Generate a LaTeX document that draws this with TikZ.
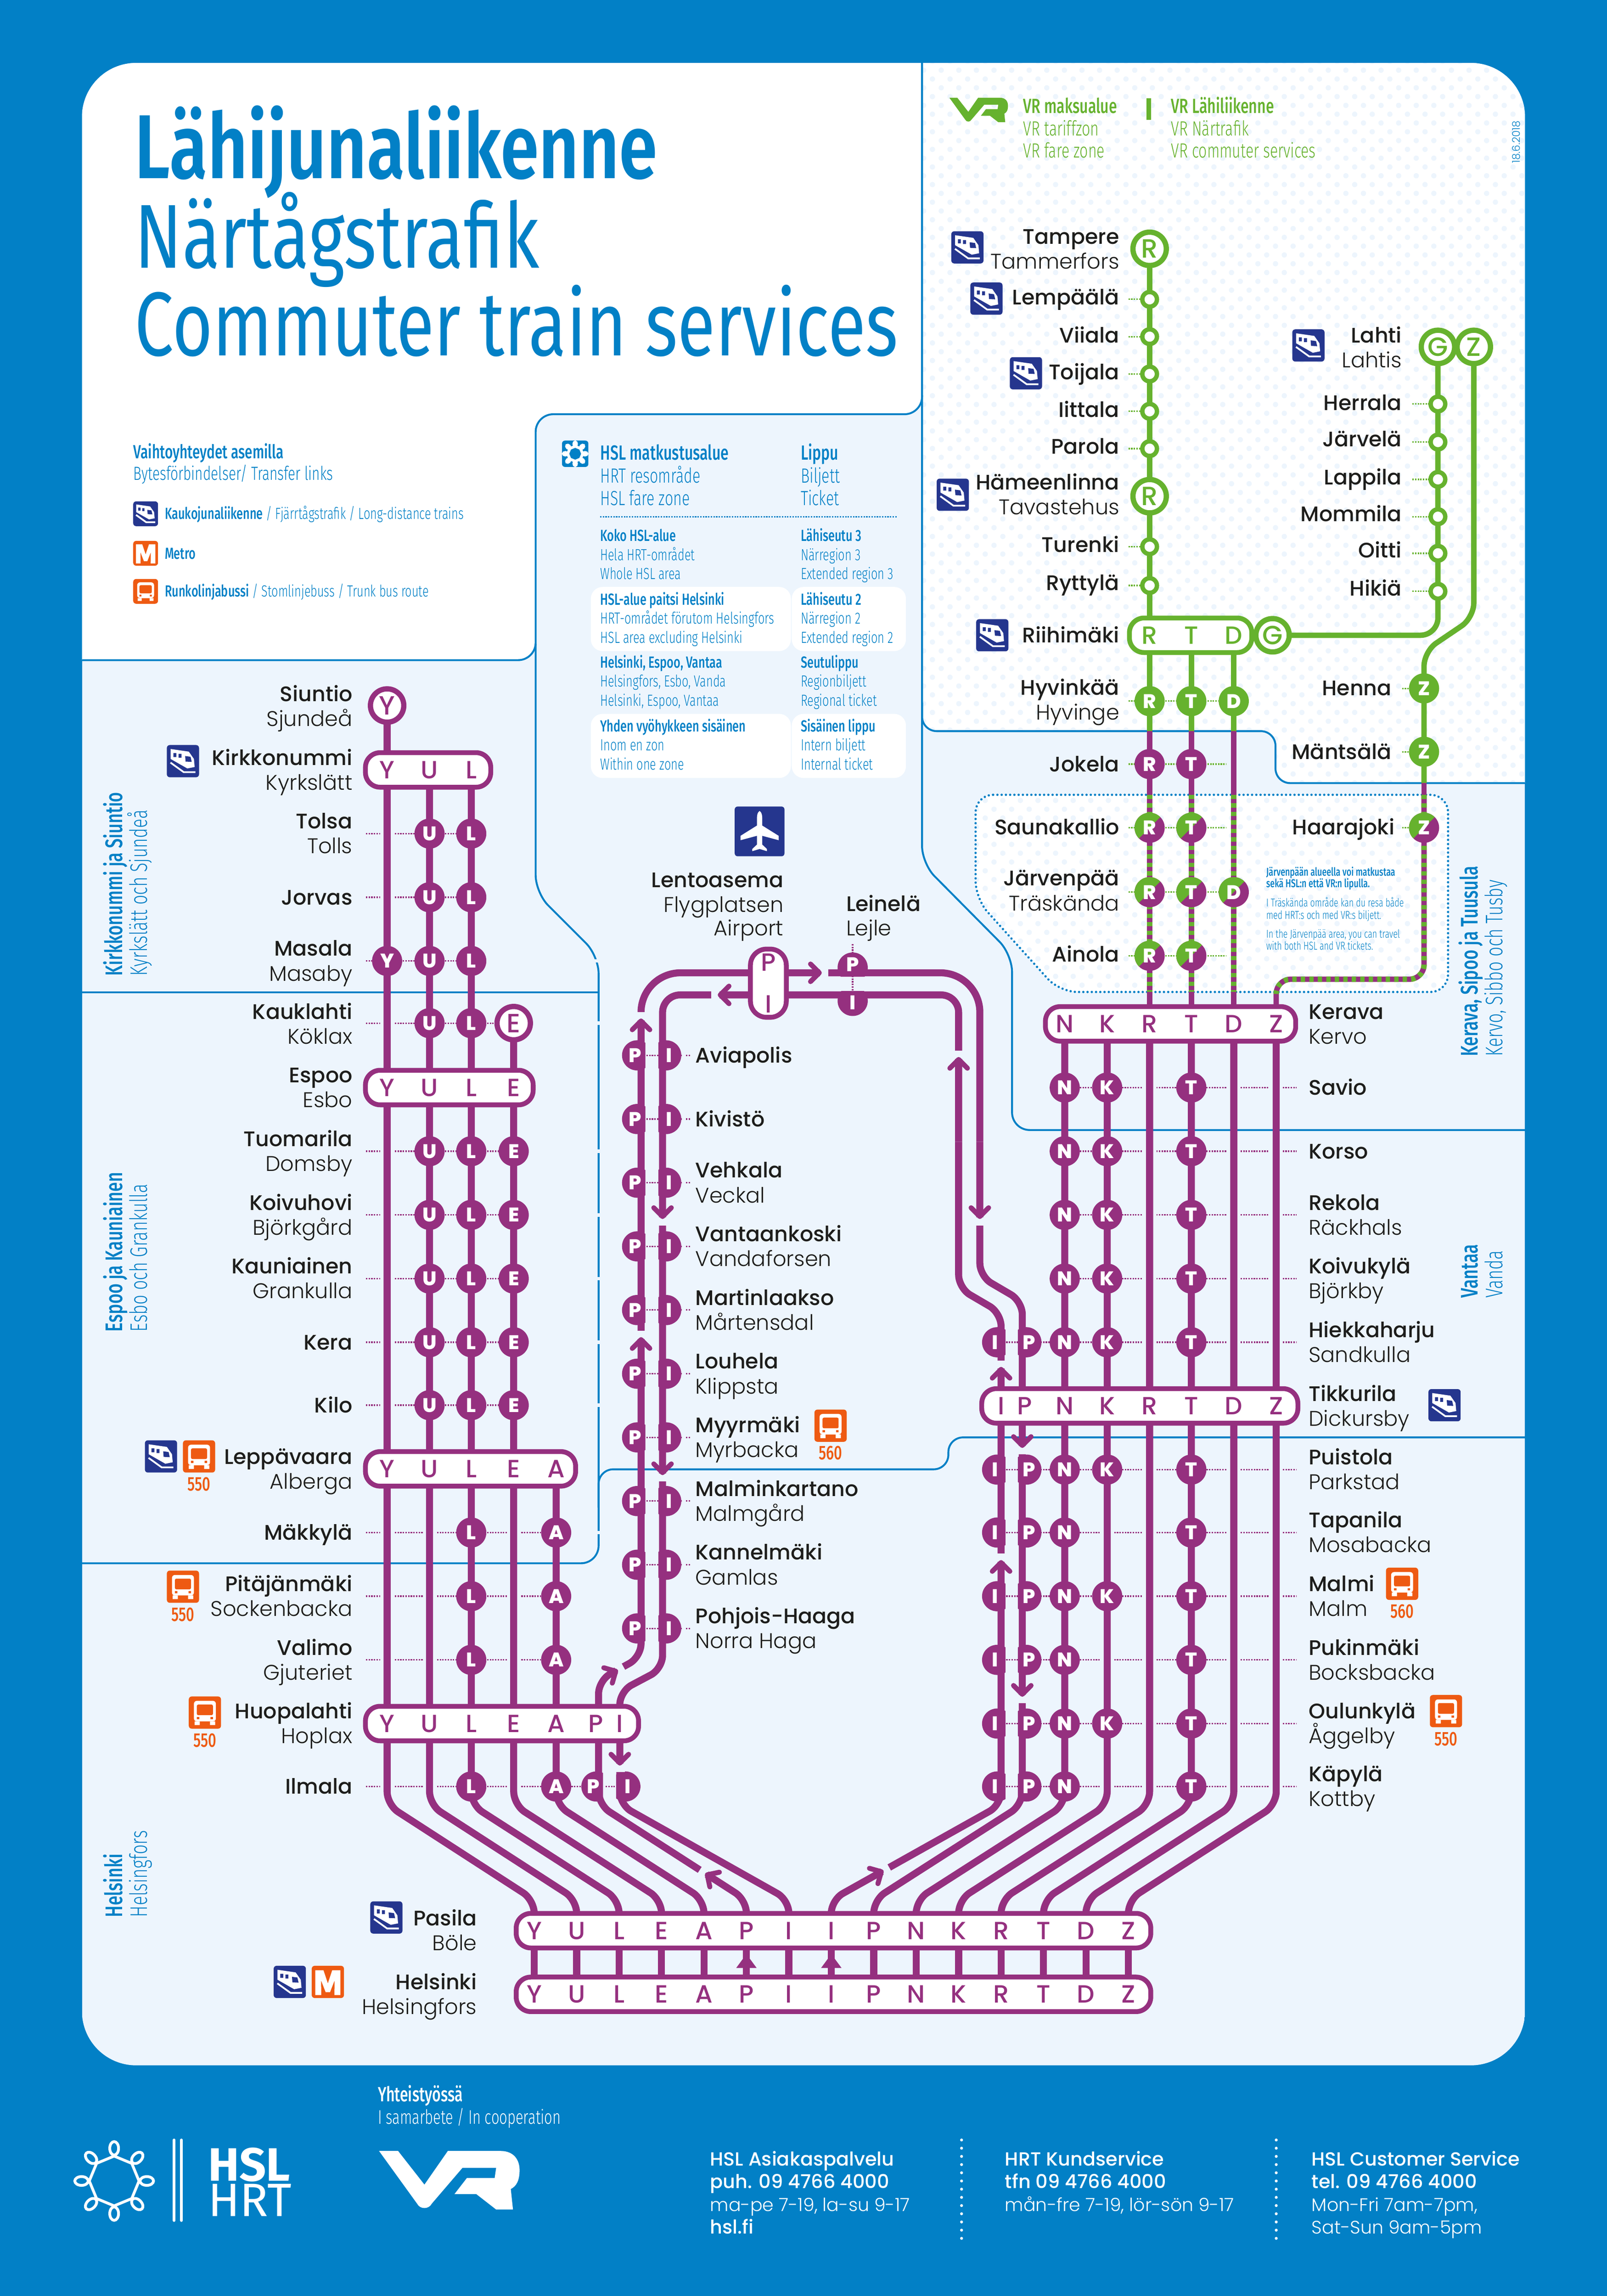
\documentclass[tikz,border=0pt]{standalone}
\usepackage{fontspec}
\usetikzlibrary{backgrounds,patterns.meta}
\newfontfamily\namefont{Poppins Medium}
\newfontfamily\bookfont{Poppins Light}
\newfontfamily\condfont[FakeStretch=0.72,BoldFont={Fira Sans Medium}]{Fira Sans Light}
\newfontfamily\titlefont[FakeStretch=0.765,BoldFont={Fira Sans SemiBold}]{Fira Sans}
\newfontfamily\logofont{Fira Sans}
\definecolor{hslblue}{HTML}{0280C6}
\definecolor{paleblue}{HTML}{EDF5FD}
\definecolor{trackpurple}{HTML}{95307F}
\definecolor{trackgreen}{HTML}{66B22E}
\definecolor{signnavy}{HTML}{25368E}
\definecolor{signorange}{HTML}{EE5A12}
\definecolor{inkblack}{HTML}{1D1D1B}
\tikzset{
	fiword/.style={font=\namefont\fontsize{14.4}{17}\selectfont,text=inkblack,inner sep=0pt,yshift=-3pt},
	svword/.style={font=\bookfont\fontsize{14.5}{17}\selectfont,text=inkblack,inner sep=0pt,yshift=-3pt},
	stopdot/.style={circle,fill=trackpurple,text=white,font=\namefont\bfseries\fontsize{13.5}{14}\selectfont,minimum size=20.6pt,inner sep=0pt,outer sep=0pt},
	greendot/.style={stopdot,fill=trackgreen},
	stopchar/.style={text=white,font=\namefont\bfseries\fontsize{13.5}{14}\selectfont,inner sep=0pt,outer sep=0pt},
	ringstop/.style={circle,draw=trackpurple,fill=white,line width=3.6pt,text=trackpurple,font=\namefont\fontsize{18}{18}\selectfont,minimum size=22.8pt,inner sep=0pt,outer sep=0pt},
	greenring/.style={ringstop,draw=trackgreen,text=trackgreen},
	smallstop/.style={circle,draw=trackgreen,fill=white,line width=3pt,minimum size=10pt,inner sep=0pt,outer sep=0pt},
	pillbox/.style={draw=trackpurple,fill=white,line width=3.3pt,rounded corners=10pt,minimum height=23.6pt,inner sep=0pt,outer sep=0pt},
	greenpill/.style={pillbox,draw=trackgreen},
	pillchar/.style={text=trackpurple,font=\namefont\fontsize{17}{17}\selectfont,inner sep=0pt,outer sep=0pt},
	greenchar/.style={pillchar,text=trackgreen},
	trackline/.style={draw=trackpurple,line width=4.8pt},
	thinline/.style={draw=trackpurple,line width=3.7pt},
	greenline/.style={draw=trackgreen,line width=3.7pt},
	sharedline/.style={draw=trackgreen,line width=3.7pt,dash pattern=on 2.9pt off 2.9pt},
	purpledots/.style={draw=trackpurple,line width=1pt,dash pattern=on 1pt off 0.8pt},
	greendots/.style={draw=trackgreen,line width=1pt,dash pattern=on 1pt off 0.8pt},
	borderline/.style={draw=hslblue,line width=1.3pt},
	dotfield/.style={preaction={fill=white},pattern={Dots[radius=1.8pt,distance=8.5pt,angle=45]},pattern color=paleblue},
	smalltext/.style={font=\condfont\fontsize{#1}{#1}\selectfont,text=hslblue,inner sep=0pt,anchor=mid west,yshift=-0.15*#1},
	smalltext/.default=10,
	boldtext/.style={font=\condfont\bfseries\fontsize{#1}{#1}\selectfont,text=hslblue,inner sep=0pt,anchor=mid west,yshift=-0.15*#1},
	boldtext/.default=10,
	sidebold/.style={font=\condfont\bfseries\fontsize{16.4}{16.4}\selectfont,text=hslblue,inner sep=0pt,anchor=mid west,rotate=90},
	sidelight/.style={font=\condfont\fontsize{16.4}{16.4}\selectfont,text=hslblue,inner sep=0pt,anchor=mid west,rotate=90},
	footword/.style={font=\bookfont\fontsize{12.4}{12.4}\selectfont,text=white,inner sep=0pt,anchor=mid west,yshift=-3pt},
	footbold/.style={font=\namefont\fontsize{13}{13}\selectfont,text=white,inner sep=0pt,anchor=mid west,yshift=-3pt},
	busno/.style={font=\condfont\bfseries\fontsize{13.5}{13.5}\selectfont,text=signorange,inner sep=0pt},
	trainsign/.pic={
		\fill[signnavy,rounded corners=2pt] (-11,-11) rectangle (11,11);
		\fill[white] (-8.4,-8.3) -- (4,-6.5) -- (7.5,-1.5) -- (8,4) -- (3,5) -- (-8.4,-1.5) -- cycle;
		\fill[signnavy] (1.5,-3.5) -- (5.2,-3) -- (6,0.5) -- (1.8,0.3) -- cycle;
		\fill[signnavy] (-6.5,-5.5) rectangle (-4.5,-2.8) (-3,-5) rectangle (-1,-2.3);
		\draw[white,line width=1.2pt] (-8.5,1) -- (0.5,7.5) -- (8.5,7.5);
	},
	busssign/.pic={
		\fill[signorange,rounded corners=2pt] (-11,-11) rectangle (11,11);
		\fill[white,rounded corners=2pt] (-7.5,-8) rectangle (7.5,6);
		\fill[signorange,rounded corners=1pt] (-5.5,-5.5) rectangle (5.5,1.8);
		\fill[white] (-7,6) rectangle (-3.5,8.5) (3.5,6) rectangle (7,8.5);
		\fill[signorange] (-5.5,3) rectangle (-3.8,4.5) (3.8,3) rectangle (5.5,4.5);
	},
	metrosign/.pic={
		\fill[signorange,rounded corners=2pt] (-11,-11) rectangle (11,11);
		\fill[white] (-8.6,9) -- (-8.6,-8) -- (-3,-8) -- (0,1) -- (3,-8) -- (8.6,-8) -- (8.6,9) -- (4.5,9) -- (4.6,-1) -- (1.5,7) -- (-1.5,7) -- (-4.6,-1) -- (-4.5,9) -- cycle;
	},
	planesign/.pic={
		\fill[signnavy,rounded corners=2pt] (-17,-17) rectangle (17,17);
		\fill[white] (0,-14) .. controls (1.5,-13) and (1.8,-11) .. (1.8,-9) -- (1.8,-4) -- (13,3) -- (13,6) -- (1.8,3) -- (1.8,9) -- (5,12) -- (5,13.5) -- (0,12) -- (-5,13.5) -- (-5,12) -- (-1.8,9) -- (-1.8,3) -- (-13,6) -- (-13,3) -- (-1.8,-4) -- (-1.8,-9) .. controls (-1.8,-11) and (-1.5,-13) .. (0,-14) -- cycle;
	},
	sunmark/.pic={
		\draw[white,line width=1.9pt,line join=round] (0:17pt) -- (45:17pt) -- (90:17pt) -- (135:17pt) -- (180:17pt) -- (225:17pt) -- (270:17pt) -- (315:17pt) -- cycle;
		\foreach \a in {0,45,...,315}{
			\draw[white,line width=1.9pt,rotate=\a] (22.3,0) ellipse[x radius=4.6,y radius=3];
		}
	},
	vrmark/.pic={
		\fill[pic actions] (0,0) -- (13,0) -- (31,23) -- (47,0) -- (83,0) .. controls (92,0) and (96,6) .. (96,13) .. controls (96,20) and (94,24) .. (90,26) -- (91.5,40) -- (80,40) -- (66.5,29.5) -- (51.5,29.5) -- (60,18.5) -- (79,18.5) -- (80,11.5) -- (57,11.5) -- (36,36) .. controls (34,40) and (28,40) .. (26,36) -- cycle;
	},
}
\newcommand{\stops}[3]{\foreach \lt in {#3}{\node[stopdot] (#1-\lt) at (\csname col\lt\endcsname,#2) {\lt};}}
\newcommand{\greenstops}[3]{\foreach \lt in {#3}{\node[greendot] (#1-\lt) at (\csname col\lt\endcsname,#2) {\lt};}}
\newcommand{\halfstop}[7]{
	\begin{scope}
		\clip #6 rectangle #7;
		\fill[trackpurple] (#5) circle[radius=10.3];
	\end{scope}
	\node[stopchar] (#1) at (#3,#4) {#2};}
\newcommand{\splitstop}[3]{
	\fill[trackpurple] (\csname col#2\endcsname,#3) circle[radius=10.3];
	\begin{scope}
		\clip (\csname col#2\endcsname,#3) circle[radius=10.3];
		\fill[trackgreen] ([shift={(-12,12)}]\csname col#2\endcsname,#3) -- ([shift={(-12,-12)}]\csname col#2\endcsname,#3) -- ([shift={(12,-12)}]\csname col#2\endcsname,#3) -- cycle;
	\end{scope}
	\node[stopchar] (#1-#2) at (\csname col#2\endcsname,#3) {#2};}
\newcommand{\pill}[5]{
	\node[pillbox,minimum width=#4] (#1) at (#3,#2) {};
	\foreach \lt in {#5}{\node[pillchar] (#1-\lt) at (\csname col\lt\endcsname,#2) {\lt};}}
\newcommand{\flowmark}[3]{
	\begin{scope}[shift={(#1,#2)},rotate=#3]
		\fill[paleblue] (-1,-3.6) rectangle (4.6,3.6);
		\draw[trackpurple,line width=3.4pt,line cap=round,line join=round] (-7.5,-6) -- (-1.5,0) -- (-7.5,6);
	\end{scope}}
\newcommand{\risemark}[2]{\fill[trackpurple] (#1,#2) -- (#1+7,#2+9.5) -- (#1-7,#2+9.5) -- cycle;}
\def\colY{264.5}\def\colU{293.5}\def\colL{322}\def\colE{351}\def\colA{380}
\def\colN{727.5}\def\colK{756.5}\def\colR{785.5}\def\colT{814}\def\colD{843}\def\colZ{872}
\begin{document}
\begin{tikzpicture}[x=1pt,y=-1pt]
	\useasboundingbox (0,0) rectangle (1098,1568.6);
	% panel and fare zones
	\begin{scope}[on background layer]
		\fill[hslblue] (0,0) rectangle (1098,1568.6);
		\begin{scope}
			\clip[rounded corners=37pt] (56,43) rectangle (1042,1411);
			\fill[paleblue] (56,43) rectangle (1042,1411);
			\fill[white,rounded corners=12pt] (20,0) -- (630,0) -- (630,283) -- (366,283) -- (366,451) -- (20,451) -- cycle;
			\path[dotfield,rounded corners=10pt] (630,0) -- (1100,0) -- (1100,535) -- (871.5,535) -- (871.5,499.5) -- (630,499.5) -- cycle;
			\draw[borderline,rounded corners=12pt] (20,451) -- (366,451) -- (366,283) -- (630,283) -- (630,0);
			\draw[borderline,rounded corners=12pt] (366,440) -- (366,610) -- (409,653) -- (409,1068) -- (20,1068);
			\draw[borderline] (20,678) -- (409,678);
			\draw[borderline,rounded corners=12pt] (630,270) -- (630,590) -- (691.5,652) -- (691.5,772) -- (1100,772);
			\draw[borderline,rounded corners=10pt] (630,480) -- (630,499.5) -- (871.5,499.5) -- (871.5,535) -- (1100,535);
			\draw[borderline,rounded corners=10pt] (409,1030) -- (409,1003.8) -- (648,1003.8) -- (648,982) -- (1100,982);
		\end{scope}
		\path[dotfield,rounded corners=12pt] (666.6,543) -- (989.4,543) -- (989.4,677.7) -- (724,677.7) -- (666.6,614) -- cycle;
		\draw[hslblue,line width=1.6pt,line cap=round,dash pattern=on 0pt off 2.9pt,rounded corners=12pt] (666.6,543) -- (989.4,543) -- (989.4,677.7) -- (724,677.7) -- (666.6,614) -- cycle;
	\end{scope}

	% pills
	\pill{kirkkonummi}{526}{292.5}{85.6}{Y,U,L}
	\pill{espoo}{743}{307}{114.6}{Y,U,L,E}
	\pill{leppavaara}{1003.5}{321.5}{143.6}{Y,U,L,E,A}
	\pill{huopalahti}{1177.5}{343}{186.6}{Y,U,L,E,A}
	\node[pillchar] (huopalahti-Pw) at (407,1177.5) {P};
	\node[pillchar] (huopalahti-Iw) at (423.5,1177.5) {I};
	\pill{kerava}{699.5}{799.8}{171}{N,K,R,T,D,Z}
	\pill{tikkurila}{960.5}{778.8}{216}{N,K,R,T,D,Z}
	\node[pillchar] (tikkurila-Ie) at (684,960.5) {I};
	\node[pillchar] (tikkurila-Pe) at (700,960.5) {P};
	\node[pillbox,minimum width=433.6] (pasila) at (569.5,1319) {};
	\node[pillbox,minimum width=433.6] (helsinki) at (569.5,1362.5) {};
	\foreach \nm/\lt/\cx in {Y/Y/365,U/U/394,L/L/423,E/E/452,A/A/481,Pw/P/510,Iw/I/539,Ie/I/568,Pe/P/597,N/N/626,K/K/655,R/R/684,T/T/713,D/D/742,Z/Z/771}{
		\node[pillchar] (pasila-\nm) at (\cx,1319) {\lt};
		\node[pillchar] (helsinki-\nm) at (\cx,1362.5) {\lt};
	}
	\node[greenpill,minimum width=83.6] (riihimaki) at (813.5,434) {};
	\foreach \lt in {R,T,D}{\node[greenchar] (riihimaki-\lt) at (\csname col\lt\endcsname,434) {\lt};}

	% terminal rings
	\node[ringstop] (siuntio-Y) at (\colY,482) {Y};
	\node[ringstop] (kauklahti-E) at (\colE,699) {E};
	\node[greenring] (tampere-R) at (\colR,170) {R};
	\node[greenring] (hameenlinna-R) at (\colR,339) {R};
	\node[greenring] (lahti-G) at (982.5,237) {G};
	\node[greenring] (lahti-Z) at (1007,237) {Z};
	\node[greenring] (riihimaki-G) at (869.5,434) {G};

	% stops, left branch
	\stops{tolsa}{569.5}{U,L}
	\stops{jorvas}{613}{U,L}
	\stops{masala}{656.5}{Y,U,L}
	\stops{kauklahti}{699}{U,L}
	\foreach \stn/\rowy in {tuomarila/786.5,koivuhovi/830,kauniainen/873.5,kera/917,kilo/960}{\stops{\stn}{\rowy}{U,L,E}}
	\foreach \stn/\rowy in {makkyla/1047,pitajanmaki/1090.5,valimo/1134,ilmala/1220.5}{\stops{\stn}{\rowy}{L,A}}
	% stops, right branch
	\foreach \stn/\rowy in {savio/743,korso/786.5,rekola/830,koivukyla/873.5,hiekkaharju/917,puistola/1004,malmi/1090.5,oulunkyla/1177.5}{\stops{\stn}{\rowy}{N,K,T}}
	\foreach \stn/\rowy in {tapanila/1047,pukinmaki/1134,kapyla/1220.5}{\stops{\stn}{\rowy}{N,T}}
	\foreach \stn/\rowy in {hiekkaharju/917,puistola/1004,tapanila/1047,malmi/1090.5,pukinmaki/1134,oulunkyla/1177.5,kapyla/1220.5}{
		\halfstop{\stn-Ie}{I}{680}{\rowy}{681.3,\rowy}{(670,\rowy-11)}{(687,\rowy+11)}
		\halfstop{\stn-Pe}{P}{703}{\rowy}{701.3,\rowy}{(695.5,\rowy-11)}{(712,\rowy+11)}
	}
	% stops, airport loop
	\foreach \stn/\rowy in {aviapolis/721,kivisto/764.5,vehkala/808,vantaankoski/851.5,martinlaakso/895,louhela/938.5,myyrmaki/982,malminkartano/1025.5,kannelmaki/1069,pohjoishaaga/1112.5}{
		\halfstop{\stn-Pw}{P}{433.8}{\rowy}{435.3,\rowy}{(424,\rowy-11)}{(441,\rowy+11)}
		\halfstop{\stn-Iw}{I}{457}{\rowy}{455.2,\rowy}{(449.8,\rowy-11)}{(466,\rowy+11)}
	}
	\halfstop{ilmala-Pw}{P}{405.5}{1220.5}{407.5,1220.5}{(396,1209)}{(412,1232)}
	\halfstop{ilmala-Iw}{I}{429}{1220.5}{427.3,1220.5}{(421,1209)}{(438,1232)}
	\halfstop{leinela-P}{P}{582.6}{659}{582.6,661}{(570,650)}{(595,667)}
	\halfstop{leinela-I}{I}{582.6}{685}{582.6,683.8}{(570,677.2)}{(595,695)}
	\node[draw=trackpurple,fill=white,line width=3.3pt,rounded corners=11pt,minimum width=24.5,minimum height=46.6,inner sep=0pt,outer sep=0pt] (lentoasema) at (525,671.7) {};
	\node[pillchar] (lentoasema-P) at (525,657.5) {P};
	\node[pillchar] (lentoasema-I) at (525,686) {I};

	% stops, green lines
	\foreach \stn/\rowy in {lempaala/204.5,viiala/230,toijala/255.5,iittala/281,parola/306.5,turenki/373.5,ryttyla/400}{\node[smallstop] (\stn-R) at (\colR,\rowy) {};}
	\foreach \stn/\rowy in {herrala/276,jarvela/302,lappila/327.5,mommila/353,oitti/378,hikia/404}{\node[smallstop] (\stn-G) at (982.5,\rowy) {};}
	\greenstops{hyvinkaa}{479}{R,T,D}
	\stops{jokela}{522}{R,T}
	\node[greendot] (henna-Z) at (973,470.3) {Z};
	\node[greendot] (mantsala-Z) at (973,513.6) {Z};
	\splitstop{saunakallio}{R}{565.5}
	\splitstop{saunakallio}{T}{565.5}
	\splitstop{jarvenpaa}{R}{609.5}
	\splitstop{jarvenpaa}{T}{609.5}
	\splitstop{jarvenpaa}{D}{609.5}
	\splitstop{ainola}{R}{653}
	\splitstop{ainola}{T}{653}
	\fill[trackpurple] (973,565.5) circle[radius=10.3];
	\begin{scope}
		\clip (973,565.5) circle[radius=10.3];
		\fill[trackgreen] (961,577.5) -- (961,553.5) -- (985,553.5) -- cycle;
	\end{scope}
	\node[stopchar] (haarajoki-Z) at (973,565.5) {Z};

	% names, left side
	\foreach \stn/\rowy/\fn/\sv in {siuntio/482.5/Siuntio/Sjundeå,kirkkonummi/526/Kirkkonummi/Kyrkslätt,tolsa/569.5/Tolsa/Tolls,masala/656.5/Masala/Masaby,kauklahti/699.5/Kauklahti/Köklax,espoo/743/Espoo/Esbo,tuomarila/786.5/Tuomarila/Domsby,koivuhovi/830/Koivuhovi/Björkgård,kauniainen/873.5/Kauniainen/Grankulla,leppavaara/1003.5/Leppävaara/Alberga,pitajanmaki/1090.5/Pitäjänmäki/Sockenbacka,valimo/1134/Valimo/Gjuteriet,huopalahti/1177.5/Huopalahti/Hoplax}{
		\node[fiword,anchor=mid east] (\stn-fi) at (241,\rowy-8.5) {\fn};
		\node[svword,anchor=mid east] (\stn-sv) at (241,\rowy+8.5) {\sv};
	}
	\foreach \stn/\rowy/\fn in {jorvas/613/Jorvas,kera/917/Kera,kilo/960/Kilo,makkyla/1047/Mäkkylä,ilmala/1220.5/Ilmala}{
		\node[fiword,anchor=mid east] (\stn-fi) at (241,\rowy) {\fn};
	}
	\foreach \stn/\rowy/\fn/\sv in {pasila/1319/Pasila/Böle,helsinki/1362.5/Helsinki/Helsingfors}{
		\node[fiword,anchor=mid east] (\stn-fi) at (326,\rowy-8.5) {\fn};
		\node[svword,anchor=mid east] (\stn-sv) at (326,\rowy+8.5) {\sv};
	}
	% names, airport loop
	\foreach \stn/\rowy/\fn/\sv in {vehkala/808/Vehkala/Veckal,vantaankoski/851.5/Vantaankoski/Vandaforsen,martinlaakso/895/Martinlaakso/Mårtensdal,louhela/938.5/Louhela/Klippsta,myyrmaki/982/Myyrmäki/Myrbacka,malminkartano/1025.5/Malminkartano/Malmgård,kannelmaki/1069/Kannelmäki/Gamlas,pohjoishaaga/1112.5/Pohjois-Haaga/Norra Haga}{
		\node[fiword,anchor=mid west] (\stn-fi) at (475,\rowy-8.5) {\fn};
		\node[svword,anchor=mid west] (\stn-sv) at (475,\rowy+8.5) {\sv};
	}
	\node[fiword,anchor=mid west] (aviapolis-fi) at (475,721) {Aviapolis};
	\node[fiword,anchor=mid west] (kivisto-fi) at (475,764.5) {Kivistö};
	\node[fiword,anchor=mid east] (lentoasema-fi) at (535.5,601) {Lentoasema};
	\node[svword,anchor=mid east] (lentoasema-sv) at (535.5,618) {Flygplatsen};
	\node[svword,anchor=mid east] (lentoasema-en) at (535.5,634) {Airport};
	\node[fiword,anchor=mid west] (leinela-fi) at (578,617.5) {Leinelä};
	\node[svword,anchor=mid west] (leinela-sv) at (578,634) {Lejle};
	% names, right side
	\foreach \stn/\rowy/\fn/\sv in {kerava/699.5/Kerava/Kervo,rekola/830/Rekola/Räckhals,koivukyla/873.5/Koivukylä/Björkby,hiekkaharju/917/Hiekkaharju/Sandkulla,tikkurila/960.5/Tikkurila/Dickursby,puistola/1004/Puistola/Parkstad,tapanila/1047/Tapanila/Mosabacka,malmi/1090.5/Malmi/Malm,pukinmaki/1134/Pukinmäki/Bocksbacka,oulunkyla/1177.5/Oulunkylä/Åggelby,kapyla/1220.5/Käpylä/Kottby}{
		\node[fiword,anchor=mid west] (\stn-fi) at (894,\rowy-8.5) {\fn};
		\node[svword,anchor=mid west] (\stn-sv) at (894,\rowy+8.5) {\sv};
	}
	\node[fiword,anchor=mid west] (savio-fi) at (894,743) {Savio};
	\node[fiword,anchor=mid west] (korso-fi) at (894,786.5) {Korso};
	% names, green lines
	\foreach \stn/\rowy/\fn/\sv in {tampere/170/Tampere/Tammerfors,hameenlinna/338/Hämeenlinna/Tavastehus,hyvinkaa/478/Hyvinkää/Hyvinge,jarvenpaa/608.5/Järvenpää/Träskända}{
		\node[fiword,anchor=mid east] (\stn-fi) at (765,\rowy-8.5) {\fn};
		\node[svword,anchor=mid east] (\stn-sv) at (765,\rowy+8.5) {\sv};
	}
	\foreach \stn/\rowy/\fn in {lempaala/203/Lempäälä,viiala/229/Viiala,toijala/254/Toijala,iittala/280/Iittala,parola/305/Parola,turenki/372/Turenki,ryttyla/398/Ryttylä,riihimaki/434/Riihimäki,jokela/522/Jokela,saunakallio/565/Saunakallio,ainola/652/Ainola}{
		\node[fiword,anchor=mid east] (\stn-fi) at (765,\rowy) {\fn};
	}
	\node[fiword,anchor=mid east] (lahti-fi) at (958,229) {Lahti};
	\node[svword,anchor=mid east] (lahti-sv) at (958,246) {Lahtis};
	\foreach \stn/\rowy/\fn in {herrala/275/Herrala,jarvela/300/Järvelä,lappila/326/Lappila,mommila/351/Mommila,oitti/376/Oitti,hikia/402/Hikiä}{
		\node[fiword,anchor=mid east] (\stn-fi) at (958,\rowy) {\fn};
	}
	\node[fiword,anchor=mid east] (henna-fi) at (951,470) {Henna};
	\node[fiword,anchor=mid east] (mantsala-fi) at (951,513.5) {Mäntsälä};
	\node[fiword,anchor=mid east] (haarajoki-fi) at (953,565) {Haarajoki};

	% signs at stations
	\foreach \px/\py in {661/169,674/204,701/255,651/338,678/434,894/236,125/520,110/995,987/960,264/1310,198/1354}{\pic at (\px,\py) {trainsign};}
	\foreach \px/\py/\nb/\ny in {136/995/a/1014,125/1084/b/1103,140/1170/c/1189,988/1169/d/1188}{
		\pic at (\px,\py) {busssign};
		\node[busno] (bus\nb) at (\px,\ny) {550};
	}
	\pic at (567.5,974) {busssign};
	\node[busno] (bushaga) at (567.5,992.5) {560};
	\pic at (958,1082) {busssign};
	\node[busno] (busmalmi) at (958,1101) {560};
	\pic at (224,1354) {metrosign};
	\pic at (519,568) {planesign};

	% title and legend
	\node[font=\titlefont\bfseries\fontsize{62}{62}\selectfont,text=hslblue,inner sep=0pt,anchor=base west] (titlefi) at (92,122) {Lähijunaliikenne};
	\node[font=\titlefont\fontsize{62}{62}\selectfont,text=hslblue,inner sep=0pt,anchor=base west] (titlesv) at (92,183) {Närtågstrafik};
	\node[font=\titlefont\fontsize{62}{62}\selectfont,text=hslblue,inner sep=0pt,anchor=base west] (titleen) at (92,243) {Commuter train services};
	\node[boldtext=13] (transferfi) at (91,309) {Vaihtoyhteydet asemilla};
	\node[smalltext=13] (transfersv) at (91,324) {Bytesförbindelser/ Transfer links};
	\pic[scale=0.77] at (99.5,351) {trainsign};
	\pic[scale=0.77] at (99.5,378) {metrosign};
	\pic[scale=0.77] at (99.5,404) {busssign};
	\node[smalltext=11] (legendtrain) at (112.5,351) {{\bfseries Kaukojunaliikenne} / Fjärrtågstrafik / Long-distance trains};
	\node[boldtext=11] (legendmetro) at (112.5,378) {Metro};
	\node[smalltext=11] (legendbus) at (112.5,404) {{\bfseries Runkolinjabussi} / Stomlinjebuss / Trunk bus route};

	% fare table
	\fill[hslblue,rounded corners=2pt] (384,301) rectangle (402,319);
	\pic[scale=0.3] at (393,310) {sunmark};
	\foreach \ty/\tx/\xe in {401/403.7/540.4,487.7/403.7/540.4,401/541/619,487.7/541/619}{
		\fill[white,rounded corners=8pt] (\tx,\ty) rectangle (\xe,\ty+43.8);
	}
	\node[boldtext=14] (zonehead) at (410,310) {HSL matkustusalue};
	\node[smalltext=14] (zonesv) at (410,325.5) {HRT resområde};
	\node[smalltext=14] (zoneen) at (410,341) {HSL fare zone};
	\node[boldtext=14] (tickethead) at (547,310) {Lippu};
	\node[smalltext=14] (ticketsv) at (547,325.5) {Biljett};
	\node[smalltext=14] (ticketen) at (547,341) {Ticket};
	\draw[hslblue,line width=1pt,dash pattern=on 1pt off 0.8pt] (410,353) -- (613,353);
	\foreach \rw/\ya/\yb/\yc/\afi/\asv/\aen/\bfi/\bsv/\ben in {
		a/366/379/392/Koko HSL-alue/Hela HRT-området/Whole HSL area/Lähiseutu 3/Närregion 3/Extended region 3,
		b/409.5/422.5/435.5/HSL-alue paitsi Helsinki/HRT-området förutom Helsingfors/HSL area excluding Helsinki/Lähiseutu 2/Närregion 2/Extended region 2,
		c/452.5/465.5/478.5/{Helsinki, Espoo, Vantaa}/{Helsingfors, Esbo, Vanda}/{Helsinki, Espoo, Vantaa}/Seutulippu/Regionbiljett/Regional ticket,
		d/496/509/522/Yhden vyöhykkeen sisäinen/Inom en zon/Within one zone/Sisäinen lippu/Intern biljett/Internal ticket}{
		\node[boldtext=11] (fare\rw-a) at (410,\ya) {\afi};
		\node[smalltext=11] (fare\rw-b) at (410,\yb) {\asv};
		\node[smalltext=11] (fare\rw-c) at (410,\yc) {\aen};
		\node[boldtext=11] (ticket\rw-a) at (547,\ya) {\bfi};
		\node[smalltext=11] (ticket\rw-b) at (547,\yb) {\bsv};
		\node[smalltext=11] (ticket\rw-c) at (547,\yc) {\ben};
	}

	% VR legend
	\pic[fill=trackgreen,scale=0.417] at (648.7,66.8) {vrmark};
	\fill[trackgreen] (783.5,67) rectangle (786.5,82);
	\foreach \tx/\tg/\ta/\tb/\tc in {699/a/VR maksualue/VR tariffzon/VR fare zone,800/b/VR Lähiliikenne/VR Närtrafik/VR commuter services}{
		\node[boldtext=14,text=trackgreen] (vr\tg-fi) at (\tx,73) {\ta};
		\node[smalltext=14,text=trackgreen] (vr\tg-sv) at (\tx,88.5) {\tb};
		\node[smalltext=14,text=trackgreen] (vr\tg-en) at (\tx,103.5) {\tc};
	}
	\node[font=\bookfont\fontsize{7.2}{7.2}\selectfont,text=hslblue,inner sep=0pt,rotate=90] (issuedate) at (1036,97) {18.6.2018};

	% zone side labels
	\foreach \zn/\lx/\ly/\zfi/\zsv in {kirkko/81.5/667/Kirkkonummi ja Siuntio/Kyrkslätt och Sjundeå,espoozone/81.5/910/Espoo ja Kauniainen/Esbo och Grankulla,helsinkizone/81.5/1310/Helsinki/Helsingfors,vantaazone/1007.5/887/Vantaa/Vanda,keravazone/1007.5/722/{Kerava, Sipoo ja Tuusula}/{Kervo, Sibbo och Tusby}}{
		\node[sidebold] (\zn-fi) at (\lx,\ly) {\zfi};
		\node[sidelight] (\zn-sv) at (\lx+17,\ly) {\zsv};
	}

	% Jarvenpaa note
	\foreach \nn/\ty/\txt in {a/595/Järvenpään alueella voi matkustaa,b/603/sekä HSL:n että VR:n lipulla.}{
		\node[boldtext=7.8] (note\nn) at (865,\ty) {\txt};
	}
	\foreach \nn/\ty/\txt in {c/616/I Träskända område kan du resa både,d/624.6/med HRT:s och med VR:s biljett.,e/637.5/{In the Järvenpää area, you can travel},f/645.6/with both HSL and VR tickets.}{
		\node[smalltext=7.8] (note\nn) at (865,\ty) {\txt};
	}

	% footer
	\pic at (78,1490) {sunmark};
	\draw[white,line width=1.9pt,line cap=round] (119,1462) -- (119,1517) (124,1462) -- (124,1517);
	\node[font=\logofont\bfseries\fontsize{32}{32}\selectfont,text=white,inner sep=0pt,anchor=base west] (logohsl) at (142,1490) {HSL};
	\node[font=\logofont\fontsize{32}{32}\selectfont,text=white,inner sep=0pt,anchor=base west] (logohrt) at (142,1514) {HRT};
	\pic[fill=white] at (259,1469.5) {vrmark};
	\node[boldtext=14,text=white] (togetherfi) at (258,1431.5) {Yhteistyössä};
	\node[smalltext=13.5,text=white] (togethersv) at (258,1447) {I samarbete / In cooperation};
	\foreach \fx/\fk/\fa/\fb/\fc/\fd in {485/a/HSL Asiakaspalvelu/puh. 09 4766 4000/{ma-pe 7-19, la-su 9-17}/,686.5/b/HRT Kundservice/tfn 09 4766 4000/{mån-fre 7-19, lör-sön 9-17}/,896/c/HSL Customer Service/tel. 09 4766 4000/{Mon-Fri 7am-7pm,}/Sat-Sun 9am-5pm}{
		\node[footbold] (foot\fk-a) at (\fx,1474.5) {\fa};
		\node[footbold] (foot\fk-b) at (\fx,1490) {\fb};
		\node[footword] (foot\fk-c) at (\fx,1505.5) {\fc};
		\node[footword] (foot\fk-d) at (\fx,1521) {\fd};
	}
	\node[footbold] (footurl) at (485,1521) {hsl.fi};
	\draw[white,line width=2pt,line cap=round,dash pattern=on 0pt off 5.6pt] (657,1462) -- (657,1530) (872,1462) -- (872,1530);

	% direction marks
	\flowmark{438}{696}{90}
	\flowmark{438}{913.7}{90}
	\flowmark{452.7}{832.6}{-90}
	\flowmark{452.7}{1007.6}{-90}
	\flowmark{422}{1141}{29}
	\flowmark{423.5}{1206}{-90}
	\flowmark{482}{1280}{147}
	\flowmark{603.5}{1278}{29}
	\flowmark{561.3}{664.6}{0}
	\flowmark{490.6}{679.7}{180}
	\flowmark{655}{722.3}{90}
	\flowmark{669.5}{832.6}{-90}
	\flowmark{684}{934}{90}
	\flowmark{698.5}{989}{-90}
	\flowmark{684}{1066}{90}
	\flowmark{698.5}{1159}{-90}
	\risemark{510}{1335}
	\risemark{568}{1335}

	% dotted row lines and tracks
	\begin{scope}[on background layer]
		\foreach \stn/\rowy/\last in {tolsa/569.5/L,jorvas/613/L,masala/656.5/L,kauklahti/699/E,tuomarila/786.5/E,koivuhovi/830/E,kauniainen/873.5/E,kera/917/E,kilo/960/E,makkyla/1047/A,pitajanmaki/1090.5/A,valimo/1134/A,ilmala/1220.5/Iw}{
			\coordinate (lead-\stn) at (250,\rowy);
			\draw[purpledots] (lead-\stn) -- (\stn-\last);
			\foreach \cx in {\colY,\colU,\colE,\colA,409}{\fill[paleblue] (\cx-4.6,\rowy-1.2) rectangle (\cx+4.6,\rowy+1.2);}
		}
		\foreach \stn/\rowy/\first in {savio/743/N,korso/786.5/N,rekola/830/N,koivukyla/873.5/N,hiekkaharju/917/Ie,puistola/1004/Ie,tapanila/1047/Ie,malmi/1090.5/Ie,pukinmaki/1134/Ie,oulunkyla/1177.5/Ie,kapyla/1220.5/Ie}{
			\coordinate (lead-\stn) at (886,\rowy);
			\draw[purpledots] (\stn-\first) -- (lead-\stn);
			\foreach \cx in {\colK,\colR,\colD,\colZ}{\fill[paleblue] (\cx-4.6,\rowy-1.2) rectangle (\cx+4.6,\rowy+1.2);}
		}
		\foreach \stn/\rowy in {aviapolis/721,kivisto/764.5,vehkala/808,vantaankoski/851.5,martinlaakso/895,louhela/938.5,myyrmaki/982,malminkartano/1025.5,kannelmaki/1069,pohjoishaaga/1112.5}{
			\coordinate (lead-\stn) at (471.5,\rowy);
			\draw[purpledots] (\stn-Pw) -- (lead-\stn);
			\fill[paleblue] (466,\rowy-1.2) rectangle (468,\rowy+1.2);
		}
		\coordinate (leadleinela) at (582.6,645);
		\draw[purpledots] (leadleinela) -- (leinela-I);
		\foreach \stn/\rowy/\last in {lempaala/204.5/R,viiala/230/R,toijala/255.5/R,iittala/281/R,parola/306.5/R,turenki/373.5/R,ryttyla/400/R}{
			\coordinate (lead-\stn) at (771,\rowy);
			\draw[greendots] (lead-\stn) -- (\stn-\last);
		}
		\foreach \stn/\rowy in {herrala/276,jarvela/302,lappila/327.5,mommila/353,oitti/378,hikia/404}{
			\coordinate (lead-\stn) at (965,\rowy);
			\draw[greendots] (lead-\stn) -- (\stn-G);
		}
		\foreach \stn/\rowy/\last in {hyvinkaa/479/D,jarvenpaa/609.5/D}{
			\coordinate (lead-\stn) at (771,\rowy);
			\draw[greendots] (lead-\stn) -- (\stn-\last);
		}
		\foreach \stn/\rowy in {jokela/522,saunakallio/565.5,ainola/653}{
			\coordinate (lead-\stn) at (771,\rowy);
			\coordinate (leadend-\stn) at (838,\rowy);
			\draw[greendots] (lead-\stn) -- (leadend-\stn);
		}
		\foreach \stn/\rowy in {henna/470.3,mantsala/513.6,haarajoki/565.5}{
			\coordinate (lead-\stn) at (958,\rowy);
			\draw[greendots] (lead-\stn) -- (\stn-Z);
		}

		% lines to Pasila, left and right
		\foreach \nm/\cx/\dx/\first in {Y/264.5/365/siuntio,U/293.5/394/kirkkonummi,L/322/423/kirkkonummi,E/351/452/kauklahti,A/380/481/leppavaara,Pw/409/510/huopalahti,Iw/423.5/539/huopalahti,Ie/684/568/tikkurila,Pe/698.5/597/tikkurila,N/727.5/626/kerava,K/756.5/655/kerava,R/785.5/684/kerava,T/814/713/kerava,D/843/742/kerava,Z/872/771/kerava}{
			\coordinate (turn\nm) at (\cx,1233);
			\coordinate (land\nm) at (\dx,1298);
			\draw[trackline,rounded corners=9pt] (\first-\nm.center -| turn\nm) -- (turn\nm) -- (land\nm) -- (pasila-\nm.center);
			\draw[trackline] (pasila-\nm.center) -- (helsinki-\nm.center);
		}
		% airport loop, outer then inner
		\coordinate (loopwa) at (409,1148);
		\coordinate (loopwb) at (438,1132);
		\coordinate (loopwc) at (438,664.6);
		\coordinate (loopwd) at (669.5,664.6);
		\coordinate (loopwe) at (669.5,872);
		\coordinate (loopwf) at (698.5,889);
		\coordinate (loopwg) at (438,900);
		\coordinate (loopwh) at (555,664.6);
		\coordinate (loopwi) at (669.5,780);
		\draw[trackline,rounded corners=9pt] (huopalahti-Pw.center -| loopwa) -- (loopwa) -- (loopwb) -- (loopwg);
		\draw[trackline,rounded corners=27pt] (loopwg) -- (loopwc) -- (loopwh);
		\draw[trackline,rounded corners=27pt] (loopwh) -- (loopwd) -- (loopwi);
		\draw[trackline,rounded corners=9pt] (loopwi) -- (loopwe) -- (loopwf) -- (tikkurila-Pe.center -| loopwf);
		\coordinate (loopna) at (423.5,1155.5);
		\coordinate (loopnb) at (452.7,1140);
		\coordinate (loopnc) at (452.7,679.7);
		\coordinate (loopnd) at (655,679.7);
		\coordinate (loopne) at (655,880);
		\coordinate (loopnf) at (684,897);
		\coordinate (loopng) at (452.7,900);
		\coordinate (loopnh) at (555,679.7);
		\coordinate (loopni) at (655,780);
		\draw[trackline,rounded corners=9pt] (huopalahti-Iw.center) -- (loopna) -- (loopnb) -- (loopng);
		\draw[trackline,rounded corners=12pt] (loopng) -- (loopnc) -- (loopnh);
		\draw[trackline,rounded corners=12pt] (loopnh) -- (loopnd) -- (loopni);
		\draw[trackline,rounded corners=9pt] (loopni) -- (loopne) -- (loopnf) -- (tikkurila-Ie.center);

		% green lines and shared section
		\draw[greenline] (tampere-R) -- (riihimaki-R);
		\coordinate (lahtibend) at (982.5,434);
		\draw[greenline,rounded corners=12pt] (lahti-G) -- (lahtibend) -- (riihimaki-G);
		\foreach \nm in {R,T,D}{
			\coordinate (zonea\nm) at (\csname col\nm\endcsname,499.5);
			\coordinate (zoneb\nm) at (\csname col\nm\endcsname,543);
			\coordinate (zonec\nm) at (\csname col\nm\endcsname,677.7);
			\draw[greenline] (riihimaki-\nm.center) -- (zonea\nm);
			\draw[thinline] (zonea\nm) -- (zonec\nm) -- (kerava-\nm.center);
			\draw[sharedline] (zoneb\nm) -- (zonec\nm);
		}
		\coordinate (zedbenda) at (1007,422);
		\coordinate (zedbendb) at (973,445);
		\coordinate (zonezeda) at (973,535);
		\coordinate (zonezedb) at (973,543);
		\coordinate (zonezedc) at (973,669);
		\coordinate (zonezedd) at (872,669);
		\coordinate (zonezede) at (872,677.7);
		\draw[greenline,rounded corners=10pt] (lahti-Z) -- (zedbenda) -- (zedbendb) -- (henna-Z.center) -- (zonezeda);
		\draw[thinline] (zonezeda) -- (zonezedb);
		\draw[thinline,rounded corners=10pt] (zonezedb) -- (zonezedc) -- (zonezedd) -- (kerava-Z.center);
		\draw[sharedline,rounded corners=10pt] (zonezedb) -- (zonezedc) -- (zonezedd) -- (zonezede);
	\end{scope}
\end{tikzpicture}
\end{document}
